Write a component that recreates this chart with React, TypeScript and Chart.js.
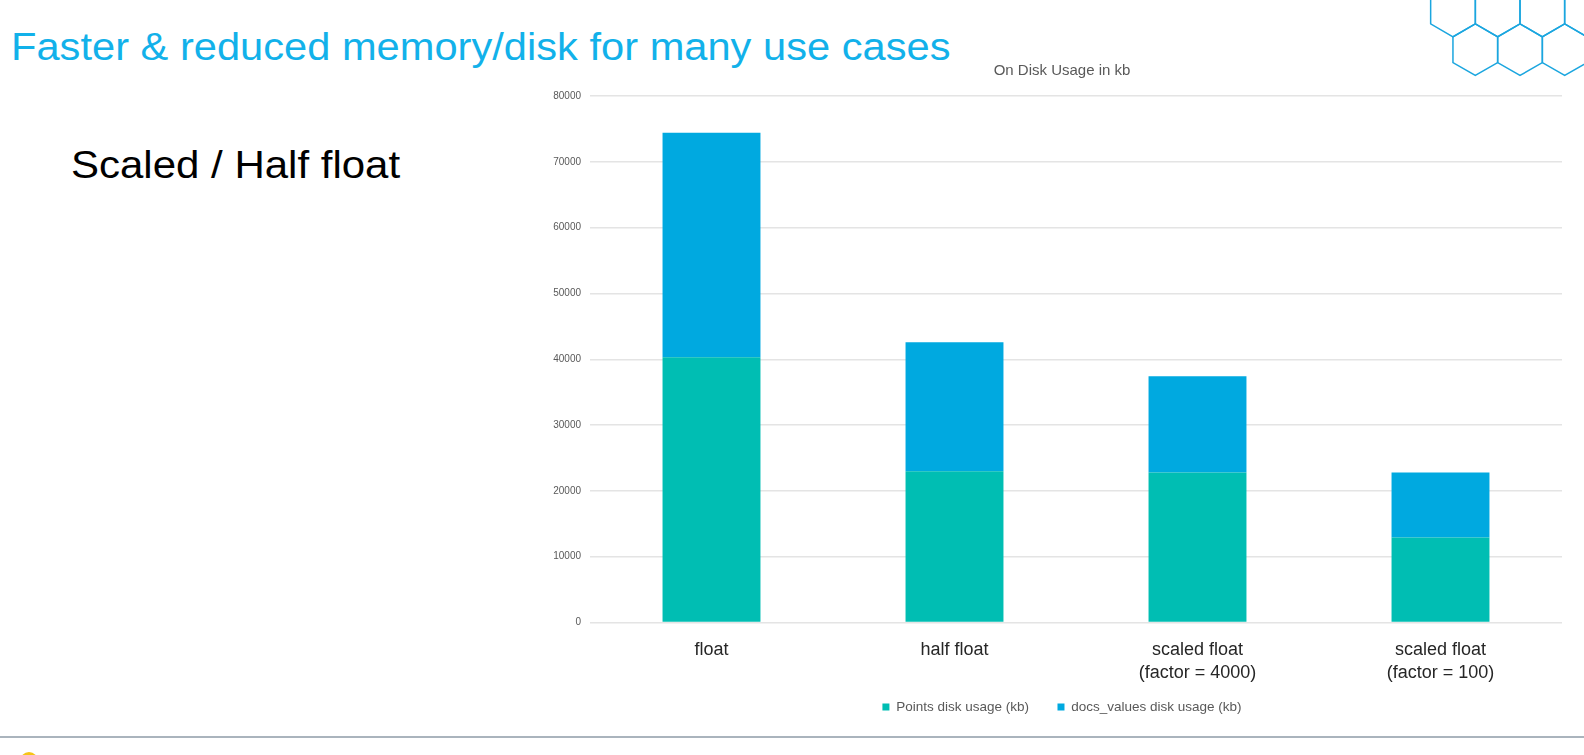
import React, { useEffect, useRef } from "react";
import { Chart, registerables } from "chart.js";

Chart.register(...registerables);

const categories: (string | string[])[] = [
  "float",
  "half float",
  ["scaled float", "(factor = 4000)"],
  ["scaled float", "(factor = 100)"],
];
const pointsDisk = [40300, 23000, 22800, 12900];
const docValuesDisk = [34100, 19600, 14600, 9900];
const yTickMax = 80000;
const yTickStep = 10000;
const chartTitle = "On Disk Usage in kb";
const seriesNames = ["Points disk usage (kb)", "docs_values disk usage (kb)"];

const TEAL = "#00BEB3";
const BLUE = "#00A9E0";

function BarChart() {
  const ref = useRef<HTMLCanvasElement | null>(null);
  useEffect(() => {
    if (!ref.current) return;
    const chart = new Chart(ref.current, {
      type: "bar",
      data: {
        labels: categories,
        datasets: [
          {
            label: seriesNames[0],
            data: pointsDisk,
            backgroundColor: TEAL,
            borderWidth: 0,
            barPercentage: 0.403,
            categoryPercentage: 1,
          },
          {
            label: seriesNames[1],
            data: docValuesDisk,
            backgroundColor: BLUE,
            borderWidth: 0,
            barPercentage: 0.403,
            categoryPercentage: 1,
          },
        ],
      },
      options: {
        responsive: false,
        animation: false,
        layout: { padding: { top: 0, bottom: 16.3, left: 0, right: 0 } },
        plugins: {
          title: {
            display: true,
            text: chartTitle,
            color: "#595959",
            font: { family: "Liberation Sans", size: 15, weight: "normal", lineHeight: 1.2 },
            padding: { top: 11.5, bottom: 16.5 },
          },
          legend: {
            position: "bottom",
            labels: {
              boxWidth: 7,
              boxHeight: 7,
              padding: 15,
              color: "#595959",
              font: { family: "Liberation Sans", size: 13.5 },
              generateLabels: (chart: any) => {
                const items = Chart.defaults.plugins.legend.labels.generateLabels(chart);
                return items.map((it: any, i: number) =>
                  i < items.length - 1 ? { ...it, text: it.text + "\u2002\u2002" } : it
                );
              },
            },
          },
          tooltip: { enabled: false },
        },
        scales: {
          x: {
            stacked: true,
            grid: { display: false, drawTicks: false },
            border: { display: false },
            ticks: {
              padding: 16.2,
              color: "#262626",
              font: { family: "Liberation Sans", size: 18, lineHeight: "23px" },
              maxRotation: 0,
              autoSkip: false,
            },
            afterFit: (scale: any) => {
              scale.height = 62.7;
            },
          },
          y: {
            stacked: true,
            min: 0,
            max: yTickMax,
            grid: { color: "#e4e4e4", lineWidth: 1.5, drawTicks: false },
            border: { display: false },
            ticks: {
              stepSize: yTickStep,
              padding: 9,
              color: "#595959",
              font: { family: "Liberation Sans", size: 10 },
              callback: (v: any) => String(v),
            },
            afterFit: (scale: any) => {
              scale.width = 60;
            },
          },
          spacer: {
            type: "linear",
            position: "right",
            display: true,
            grid: { display: false, drawTicks: false },
            border: { display: false },
            ticks: { display: false },
            afterFit: (scale: any) => {
              scale.width = 32;
            },
          },
        },
      },
    });
    return () => chart.destroy();
  }, []);
  return (
    <canvas
      ref={ref}
      width={1064}
      height={690}
      style={{ position: "absolute", left: 530, top: 50, width: 1064, height: 690 }}
    />
  );
}

function Hexagons() {
  const s = 25.8;
  const w = 44.7;
  const centers: [number, number][] = [
    [1453, 11],
    [1497.7, 11],
    [1542.3, 11],
    [1587, 11],
    [1475.3, 49.7],
    [1520, 49.7],
    [1564.7, 49.7],
  ];
  const hex = (cx: number, cy: number) => {
    const pts = [
      [cx, cy - s],
      [cx + w / 2, cy - s / 2],
      [cx + w / 2, cy + s / 2],
      [cx, cy + s],
      [cx - w / 2, cy + s / 2],
      [cx - w / 2, cy - s / 2],
    ];
    return pts.map((p) => p.join(",")).join(" ");
  };
  return (
    <svg
      width={1584}
      height={755}
      style={{ position: "absolute", left: 0, top: 0, pointerEvents: "none" }}
    >
      {centers.map(([cx, cy], i) => (
        <polygon key={i} points={hex(cx, cy)} fill="none" stroke="#1BA6DF" strokeWidth={1.5} />
      ))}
      <circle cx={29} cy={761} r={9} fill="#F6C416" />
    </svg>
  );
}

export default function App() {
  return (
    <div
      style={{
        position: "fixed",
        left: 0,
        top: 0,
        width: 1584,
        height: 755,
        overflow: "hidden",
        background: "#ffffff",
      }}
    >
      <div
        style={{
          position: "absolute",
          left: 11,
          top: 27,
          fontFamily: "Liberation Sans",
          fontSize: 39.4,
          lineHeight: 1,
          color: "#12B1EA",
          whiteSpace: "nowrap",
          transform: "scaleX(1.057)",
          transformOrigin: "left top",
        }}
      >
        Faster &amp; reduced memory/disk for many use cases
      </div>
      <div
        style={{
          position: "absolute",
          left: 71,
          top: 145.5,
          fontFamily: "Liberation Sans",
          fontSize: 38,
          lineHeight: 1,
          color: "#000000",
          whiteSpace: "nowrap",
          transform: "scaleX(1.105)",
          transformOrigin: "left top",
        }}
      >
        Scaled / Half float
      </div>
      <Hexagons />
      <div
        style={{
          position: "absolute",
          left: 0,
          top: 736,
          width: 1584,
          height: 2,
          background: "#AAB4BD",
        }}
      />
      <BarChart />
    </div>
  );
}
